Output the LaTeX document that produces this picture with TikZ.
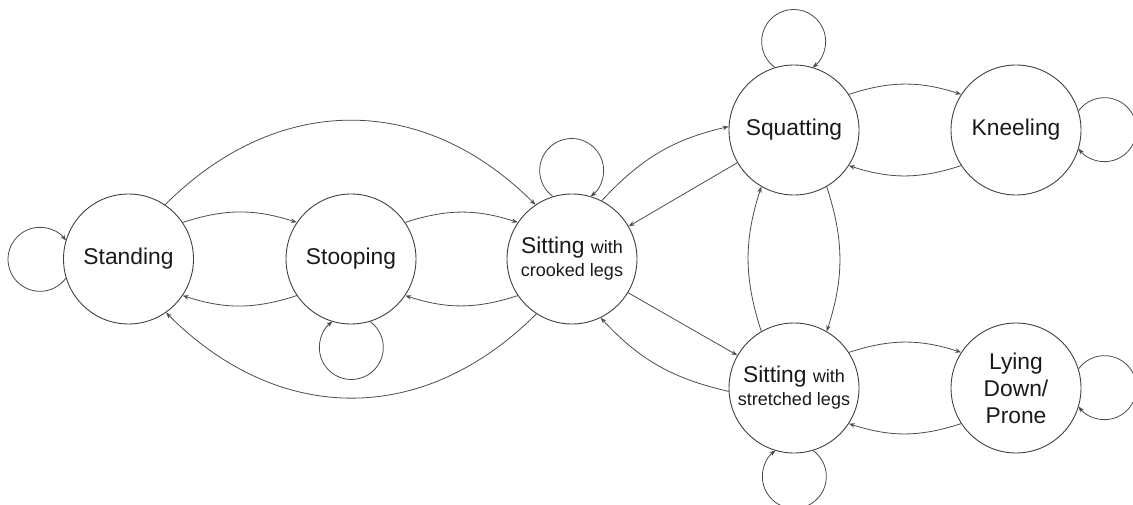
\documentclass[tikz,border=0pt]{standalone}
\usepackage{fontspec}
\setmainfont{Liberation Sans}
\usetikzlibrary{arrows.meta}
\begin{document}
\begin{tikzpicture}[x=1pt,y=1pt,
  state/.style={circle,draw=black!75,line width=0.9pt,minimum size=130pt,inner sep=0pt,align=center,text=black!90,font=\fontsize{22.8}{23}\selectfont},
  edge/.style={draw=black!70,line width=0.8pt,-{Stealth[length=6pt,width=4.5pt]}}
]
\useasboundingbox (0,0) rectangle (1133,504);
\node[state] (standing) at (128.5,245) {Standing};
\node[state] (stooping) at (351,245) {Stooping};
\node[state] (crooked) at (572,245) {Sitting {\fontsize{18}{23}\selectfont with}\\{\fontsize{18}{23}\selectfont crooked legs}};
\node[state] (squatting) at (794,374) {Squatting};
\node[state] (kneeling) at (1016,374) {Kneeling};
\node[state] (stretched) at (794,116) {Sitting {\fontsize{18}{23}\selectfont with}\\{\fontsize{18}{23}\selectfont stretched legs}};
\node[state,font=\fontsize{22.8}{27}\selectfont] (lying) at (1016,116) {Lying\\Down/\\Prone};

% horizontal pairs
\draw[edge] (standing.34) to[bend left=18] (stooping.146);
\draw[edge] (stooping.214) to[bend left=18] (standing.326);
\draw[edge] (stooping.34) to[bend left=18] (crooked.146);
\draw[edge] (crooked.214) to[bend left=18] (stooping.326);
\draw[edge] (squatting.33) to[bend left=18] (kneeling.147);
\draw[edge] (kneeling.213) to[bend left=18] (squatting.327);
\draw[edge] (stretched.33) to[bend left=18] (lying.147);
\draw[edge] (lying.213) to[bend left=18] (stretched.327);

% big arcs
\draw[edge] (standing.56) to[out=45,in=135,looseness=1.1] (crooked.124);
\draw[edge] (crooked.237) to[out=225,in=-45,looseness=1.1] (standing.305);

% crooked <-> squatting / stretched
\draw[edge] (crooked.63) to[out=47,in=193] (squatting.177);
\draw[edge] (squatting.210) -- (crooked.30);
\draw[edge] (crooked.-31) -- (stretched.150);
\draw[edge] (stretched.183) to[out=167,in=-47] (crooked.-64);

% vertical pair
\draw[edge] (squatting.-60) to[bend left=18] (stretched.60);
\draw[edge] (stretched.120) to[bend left=18] (squatting.240);

% loops
\draw[edge] (standing.197) arc[start angle=-36,delta angle=-288,radius=32];
\draw[edge] (stooping.-73) arc[start angle=54,delta angle=-288,radius=32];
\draw[edge] (crooked.107) arc[start angle=234,delta angle=-288,radius=32];
\draw[edge] (squatting.107) arc[start angle=234,delta angle=-288,radius=32];
\draw[edge] (kneeling.17) arc[start angle=144,delta angle=-288,radius=32];
\draw[edge] (lying.17) arc[start angle=144,delta angle=-288,radius=32];
\draw[edge] (stretched.-73) arc[start angle=54,delta angle=-288,radius=32];
\end{tikzpicture}
\end{document}
